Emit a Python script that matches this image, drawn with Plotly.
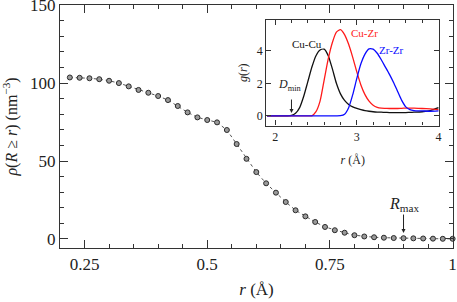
import plotly.graph_objects as go

# ---------------- data ----------------
r_vals = [0.22, 0.24, 0.26, 0.28, 0.30, 0.32, 0.34, 0.36, 0.38, 0.40,
          0.42, 0.44, 0.46, 0.48, 0.50, 0.52, 0.54, 0.56, 0.58, 0.60,
          0.62, 0.64, 0.66, 0.68, 0.70, 0.72, 0.74, 0.76, 0.78, 0.80,
          0.82, 0.84, 0.86, 0.88, 0.90, 0.92, 0.94, 0.96, 0.98, 1.00]
rho_vals = [103.6, 103.4, 103.1, 102.5, 101.5, 100.0, 97.9, 95.6, 93.8, 91.7,
            89.1, 85.3, 81.2, 78.0, 76.3, 74.8, 69.9, 60.9, 51.4, 42.9,
            35.7, 29.7, 23.7, 18.4, 14.5, 10.9, 7.7, 5.6, 4.0, 2.4,
            1.6, 1.1, 0.8, 0.6, 0.5, 0.4, 0.3, 0.2, 0.1, 0.1]

g_x = [1.90, 2.00, 2.10, 2.15, 2.20, 2.25, 2.30, 2.35, 2.40, 2.45,
       2.50, 2.55, 2.60, 2.65, 2.70, 2.75, 2.80, 2.85, 2.90, 2.95,
       3.00, 3.05, 3.10, 3.15, 3.20, 3.25, 3.30, 3.35, 3.40, 3.45,
       3.50, 3.55, 3.60, 3.65, 3.70, 3.80, 3.90, 4.00]
g_cucu = [0, 0, 0, 0, 0.02, 0.15, 0.5, 1.2, 2.1, 3.0,
          3.7, 4.05, 4.1, 3.7, 2.9, 2.0, 1.35, 0.95, 0.7, 0.55,
          0.45, 0.38, 0.32, 0.28, 0.25, 0.23, 0.22, 0.21, 0.2, 0.2,
          0.2, 0.2, 0.2, 0.21, 0.22, 0.25, 0.32, 0.5]
g_cuzr = [0, 0, 0, 0, 0, 0, 0, 0, 0, 0,
          0.25, 0.9, 2.2, 3.5, 4.5, 5.15, 5.3, 5.0, 4.4, 3.6,
          2.7, 1.9, 1.3, 0.9, 0.65, 0.52, 0.47, 0.46, 0.45, 0.45,
          0.45, 0.46, 0.47, 0.47, 0.47, 0.45, 0.42, 0.38]
g_zrzr = [0, 0, 0, 0, 0, 0, 0, 0, 0, 0,
          0, 0, 0, 0, 0, 0, 0.01, 0.1, 0.5, 1.3,
          2.3, 3.2, 3.8, 4.12, 4.1, 3.85, 3.45, 3.0, 2.55, 2.05,
          1.5, 0.95, 0.55, 0.38, 0.32, 0.3, 0.28, 0.3]

pair_labels = ["Cu-Cu", "Cu-Zr", "Zr-Zr"]
pair_colors = ["#111111", "#ff1a1a", "#0a0aff"]
r_max = 0.90
d_min = 2.20

FONT = "Liberation Serif"
AX = "#333333"

fig = go.Figure()

fig.add_trace(go.Scatter(
    x=r_vals, y=rho_vals, mode="lines+markers",
    line=dict(color="#555555", width=1, dash="dot"),
    marker=dict(symbol="circle", size=5, color="#9a9a9a",
                line=dict(color="#2a2a2a", width=1)),
    showlegend=False, xaxis="x", yaxis="y", cliponaxis=False))

for ys, lab, col in zip([g_cucu, g_cuzr, g_zrzr], pair_labels, pair_colors):
    fig.add_trace(go.Scatter(
        x=g_x, y=ys, mode="lines", line=dict(color=col, width=1.3, shape="spline", smoothing=0.6),
        showlegend=False, xaxis="x2", yaxis="y2"))

main_ax = dict(showline=True, linecolor=AX, linewidth=1.3, mirror="allticks",
               ticks="inside", tickcolor=AX, tickwidth=1.1, ticklen=8,
               showgrid=False, zeroline=False, ticklabeloverflow="allow", automargin=False,
               tickfont=dict(size=17))

fig.update_layout(
    width=457, height=302,
    margin=dict(l=60, r=4, t=5, b=54, autoexpand=False),
    paper_bgcolor="white", plot_bgcolor="white",
    font=dict(family=FONT, size=16, color="#222222"),
    xaxis=dict(**main_ax, domain=[0, 1], range=[0.2, 1.0008],
               tickvals=[0.25, 0.5, 0.75, 1.0], ticktext=["0.25", "0.5", "0.75", "1"],
               minor=dict(dtick=0.05, tick0=0, ticks="inside", ticklen=4, tickcolor=AX, tickwidth=1.1),
               title=dict(text="<i>r</i> (Å)", standoff=10, font=dict(size=17))),
    yaxis=dict(**main_ax, domain=[0, 1], range=[-5.8, 150.1],
               tickvals=[0, 50, 100, 150],
               minor=dict(dtick=10, tick0=0, ticks="inside", ticklen=4, tickcolor=AX, tickwidth=1.1),
               title=dict(text="<i>ρ</i>(<i>R</i> ≥ <i>r</i>) (nm<sup>−3</sup>)", standoff=8, font=dict(size=16))),
    xaxis2=dict(showline=True, linecolor=AX, linewidth=1.1, mirror="allticks",
                ticks="inside", tickcolor=AX, ticklen=5, showgrid=False, zeroline=False,
                domain=[0.5246, 0.9651], range=[1.89, 4.01], anchor="y2", automargin=False,
                tickvals=[2, 3, 4], tickfont=dict(size=12),
                minor=dict(dtick=0.2, tick0=0, ticks="inside", ticklen=3, tickcolor=AX),
                title=dict(text="<i>r</i> (Å)", standoff=12, font=dict(size=12))),
    yaxis2=dict(showline=True, linecolor=AX, linewidth=1.1, mirror="allticks",
                ticks="inside", tickcolor=AX, ticklen=5, showgrid=False, zeroline=False,
                domain=[0.504, 0.9384], range=[-0.6, 5.9], anchor="x2", automargin=False,
                tickvals=[0, 2, 4], tickfont=dict(size=12),
                title=dict(text="<i>g</i>(<i>r</i>)", standoff=6, font=dict(size=12))),
)

# inset labels
label_pos = [(2.39, 4.4), (3.10, 5.08), (3.43, 4.08)]
for (lx, ly), lab, col in zip(label_pos, pair_labels, pair_colors):
    fig.add_annotation(x=lx, y=ly, xref="x2", yref="y2", text=lab, showarrow=False,
                       font=dict(size=11, color=col, family=FONT))

# D_min arrow + text
fig.add_annotation(x=d_min, y=0.17, xref="x2", yref="y2", ax=0, ay=-15, text="",
                   showarrow=True, arrowhead=2, arrowsize=0.8, arrowwidth=1, arrowcolor="#222")
fig.add_annotation(x=2.18, y=1.9, xref="x2", yref="y2", showarrow=False,
                   text="<i>D</i><sub>min</sub>", font=dict(size=12, color="#222"))

# R_max arrow + text
fig.add_annotation(x=r_max, y=3.8, xref="x", yref="y", ax=0, ay=-20, text="",
                   showarrow=True, arrowhead=2, arrowsize=0.8, arrowwidth=1, arrowcolor="#222")
fig.add_annotation(x=r_max, y=22, xref="x", yref="y", showarrow=False,
                   text="<i>R</i><sub>max</sub>", font=dict(size=16, color="#222"))

fig.write_html("out.html", config={"displayModeBar": False},
               post_script="document.body.style.margin='0';document.body.style.padding='0';document.body.style.overflow='hidden';")
